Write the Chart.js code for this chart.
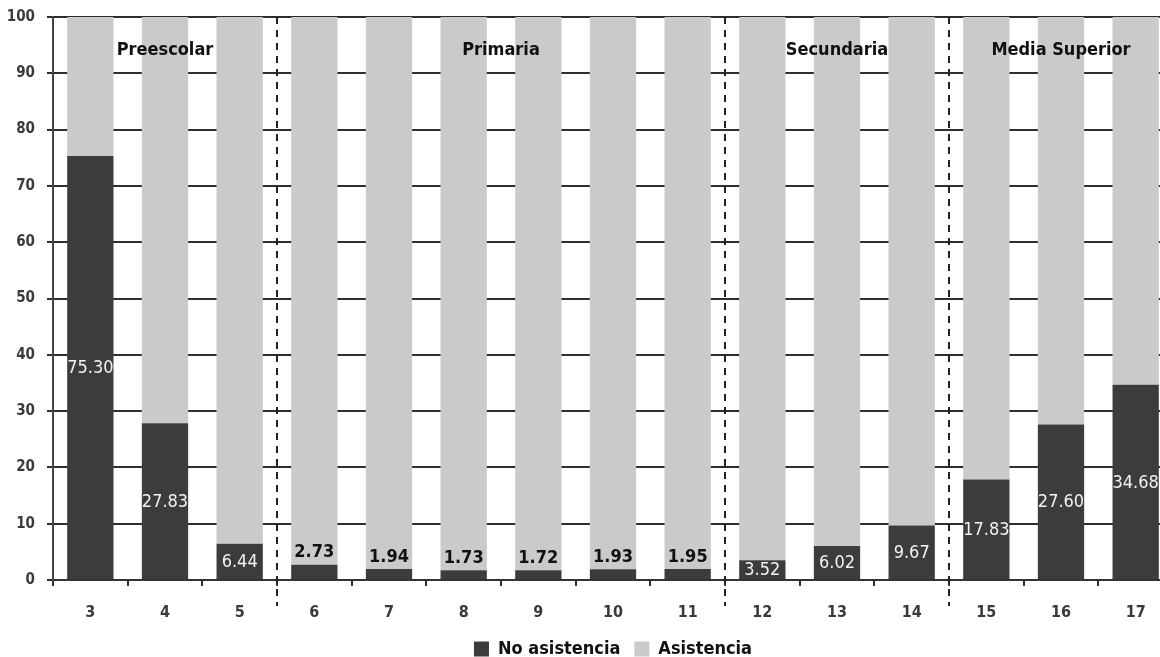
<!DOCTYPE html>
<html>
<head>
<meta charset="utf-8">
<script src="https://cdn.jsdelivr.net/npm/chart.js@4.4.1/dist/chart.umd.min.js"></script>
<style>
  html, body { margin: 0; padding: 0; background: #fff; overflow: hidden; width: 1160px; height: 657px; }
  #wrap { position: relative; width: 1175px; height: 672px; margin-top: -4px; }
</style>
</head>
<body>
<div id="wrap"><canvas id="c" width="1175" height="672"></canvas></div>
<script>
// ---- data ----
const edades = ["3","4","5","6","7","8","9","10","11","12","13","14","15","16","17"];
const noAsistencia = [75.30, 27.83, 6.44, 2.73, 1.94, 1.73, 1.72, 1.93, 1.95, 3.52, 6.02, 9.67, 17.83, 27.60, 34.68];
const asistencia   = [24.70, 72.17, 93.56, 97.27, 98.06, 98.27, 98.28, 98.07, 98.05, 96.48, 93.98, 90.33, 82.17, 72.40, 65.32];
const niveles      = ["Preescolar", "Primaria", "Secundaria", "Media Superior"];
const nivelInicio  = [0, 3, 9, 12];   // first category index of each level
const nivelFin     = [2, 8, 11, 14];  // last category index of each level
const yTicks       = [0, 10, 20, 30, 40, 50, 60, 70, 80, 90, 100];

const FONT = "'Liberation Sans Narrow', 'DejaVu Sans Condensed', 'Roboto Condensed', sans-serif";
const DARK = '#3c3c3c';
const LIGHT = '#cacaca';

const groupPlugin = {
  id: 'groups',
  afterDatasetsDraw(chart) {
    const {ctx, chartArea, scales} = chart;
    const x = scales.x, y = scales.y;
    const half = (x.getPixelForValue(1) - x.getPixelForValue(0)) / 2;
    ctx.save();
    ctx.strokeStyle = '#222';
    ctx.lineWidth = 2;
    ctx.setLineDash([7, 6]);
    for (let g = 1; g < niveles.length; g++) {
      const px = x.getPixelForValue(nivelInicio[g]) - half;
      ctx.beginPath();
      ctx.moveTo(px, chartArea.top);
      ctx.lineTo(px, chartArea.bottom + 26);
      ctx.stroke();
    }
    ctx.setLineDash([]);
    ctx.fillStyle = '#111';
    ctx.font = 'bold 18px ' + FONT;
    ctx.textAlign = 'center';
    ctx.textBaseline = 'middle';
    for (let g = 0; g < niveles.length; g++) {
      const cx = (x.getPixelForValue(nivelInicio[g]) + x.getPixelForValue(nivelFin[g])) / 2;
      ctx.fillText(niveles[g], cx, y.getPixelForValue(94));
    }
    const meta = chart.getDatasetMeta(0);
    meta.data.forEach((bar, i) => {
      const v = noAsistencia[i];
      const txt = v.toFixed(2);
      ctx.textAlign = 'center';
      if (v < 3) {
        ctx.fillStyle = '#111';
        ctx.font = 'bold 18px ' + FONT;
        ctx.textBaseline = 'bottom';
        ctx.fillText(txt, bar.x, bar.y - 3);
      } else {
        ctx.fillStyle = '#f2f2f2';
        ctx.font = '18px ' + FONT;
        ctx.textBaseline = 'middle';
        ctx.fillText(txt, bar.x, (bar.y + bar.base) / 2 + 1);
      }
    });
    ctx.restore();
  }
};

new Chart(document.getElementById('c'), {
  type: 'bar',
  data: {
    labels: edades,
    datasets: [
      { label: 'No asistencia', data: noAsistencia, backgroundColor: DARK, categoryPercentage: 1, barPercentage: 0.62 },
      { label: 'Asistencia', data: asistencia, backgroundColor: LIGHT, categoryPercentage: 1, barPercentage: 0.62 }
    ]
  },
  options: {
    responsive: false,
    animation: false,
    devicePixelRatio: 1,
    layout: { padding: { top: 4, right: 2, left: 0, bottom: 0 } },
    plugins: {
      legend: {
        position: 'bottom',
        fullSize: false,
        labels: {
          color: '#111',
          font: { family: FONT, size: 18, weight: 'bold' },
          boxWidth: 15, boxHeight: 15, padding: 14
        }
      },
      tooltip: { enabled: false }
    },
    scales: {
      x: {
        stacked: true,
        grid: { display: true, drawOnChartArea: false, drawTicks: true, tickLength: 6, color: '#333', lineWidth: 2, offset: true },
        border: { display: true, color: '#333', width: 2 },
        ticks: { color: '#3a3a3a', font: { family: FONT, size: 16, weight: 'bold' }, padding: 17, maxRotation: 0 },
        afterFit(s) { s.height = 46; }
      },
      y: {
        stacked: true,
        min: 0, max: 100,
        afterBuildTicks(s) { s.ticks = yTicks.map(v => ({ value: v })); },
        grid: { color: '#2e2e2e', lineWidth: 2, tickLength: 6, drawTicks: true },
        border: { display: true, color: '#444', width: 2 },
        ticks: { color: '#3a3a3a', font: { family: FONT, size: 15, weight: 'bold' }, padding: 12 },
        afterFit(s) { s.width = 53; }
      }
    }
  },
  plugins: [groupPlugin]
});
</script>
</body>
</html>
